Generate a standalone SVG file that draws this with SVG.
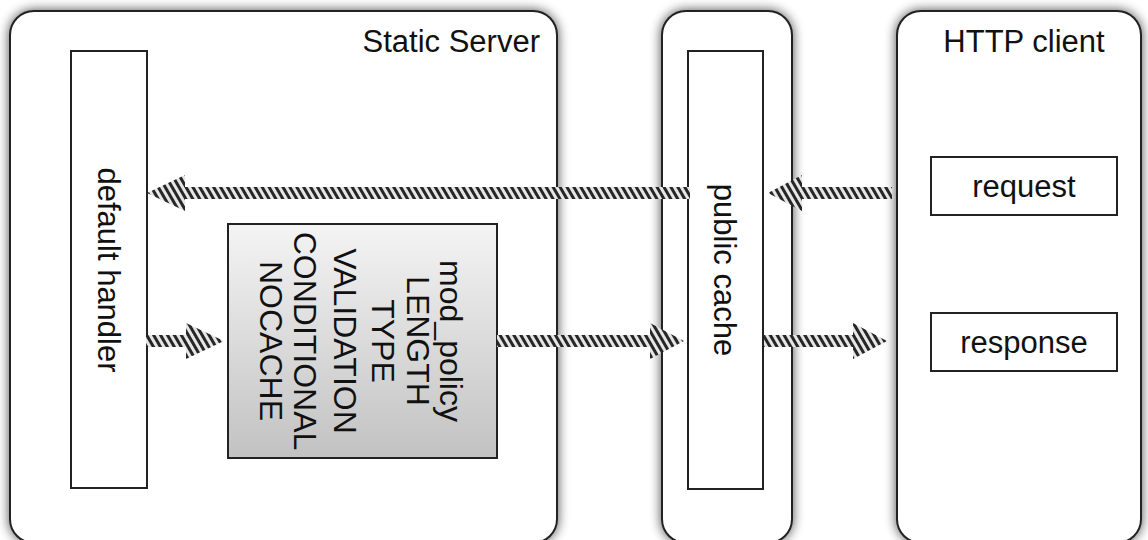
<svg xmlns="http://www.w3.org/2000/svg" width="1148" height="540" viewBox="0 0 1148 540">
<style>
.cont{fill:#fff;stroke:#222;stroke-width:2}
.box{fill:#fff;stroke:#222;stroke-width:2}
.lbl{font-family:"Liberation Sans",Arial,sans-serif;font-size:31px;fill:#111}
.mp{font-size:32px}
.arrow{fill:url(#hatch);stroke:none}
</style>
<defs>
<filter id="shadow" x="-10%" y="-10%" width="120%" height="120%">
<feGaussianBlur in="SourceAlpha" stdDeviation="6"/>
<feComponentTransfer><feFuncA type="linear" slope="0.7"/></feComponentTransfer>
<feMerge><feMergeNode/><feMergeNode in="SourceGraphic"/></feMerge>
</filter>
<linearGradient id="grad" x1="0" y1="0" x2="0" y2="1">
<stop offset="0" stop-color="#f4f4f4"/>
<stop offset="1" stop-color="#c2c2c2"/>
</linearGradient>
<pattern id="hatch" patternUnits="userSpaceOnUse" width="6" height="6" patternTransform="rotate(-30)">
<rect x="0" y="0" width="6" height="6" fill="#e6e6e6"/>
<rect x="0" y="0" width="3" height="6" fill="#262626"/>
</pattern>
</defs>

<g id="static-server">
<rect class="cont" x="10" y="11" width="547" height="532" rx="24" filter="url(#shadow)"/>
<text class="lbl" x="540" y="52" text-anchor="end">Static Server</text>
</g>
<g id="public-cache-container">
<rect class="cont" x="662" y="11" width="130" height="532" rx="24" filter="url(#shadow)"/>
</g>
<g id="http-client">
<rect class="cont" x="897" y="11" width="244" height="532" rx="24" filter="url(#shadow)"/>
<text class="lbl" x="1024" y="52" text-anchor="middle">HTTP client</text>
</g>

<g id="default-handler">
<rect class="box" x="71" y="51" width="76" height="437"/>
<text class="lbl" transform="translate(98,270) rotate(90)" text-anchor="middle">default handler</text>
</g>
<g id="public-cache">
<rect class="box" x="688" y="51" width="75" height="438"/>
<text class="lbl" transform="translate(714,270) rotate(90)" text-anchor="middle">public cache</text>
</g>
<g id="mod-policy">
<rect x="228" y="224" width="269" height="234" fill="url(#grad)" stroke="#222" stroke-width="2"/>
<g transform="translate(440,341) rotate(90)" class="lbl mp" text-anchor="middle">
<text x="0" y="0">mod_policy</text>
<text x="0" y="33">LENGTH</text>
<text x="0" y="68">TYPE</text>
<text x="0" y="106">VALIDATION</text>
<text x="0" y="146">CONDITIONAL</text>
<text x="0" y="180">NOCACHE</text>
</g>
</g>
<g id="request">
<rect class="box" x="931" y="157" width="186" height="58"/>
<text class="lbl" x="1024" y="197" text-anchor="middle">request</text>
</g>
<g id="response">
<rect class="box" x="931" y="313" width="186" height="58"/>
<text class="lbl" x="1024" y="353" text-anchor="middle">response</text>
</g>

<g id="connectors">
<path class="arrow" d="M147,193 L185,175 L185,187 L690,187 L690,199 L185,199 L185,211 Z"/>
<path class="arrow" d="M768,193 L802,175 L802,187 L892,187 L892,199 L802,199 L802,211 Z"/>
<path class="arrow" d="M224,341 L186,323 L186,335 L146,335 L146,347 L186,347 L186,359 Z"/>
<path class="arrow" d="M684,341 L650,323 L650,335 L497,335 L497,347 L650,347 L650,359 Z"/>
<path class="arrow" d="M887,341 L853,323 L853,335 L764,335 L764,347 L853,347 L853,359 Z"/>
</g>
</svg>
